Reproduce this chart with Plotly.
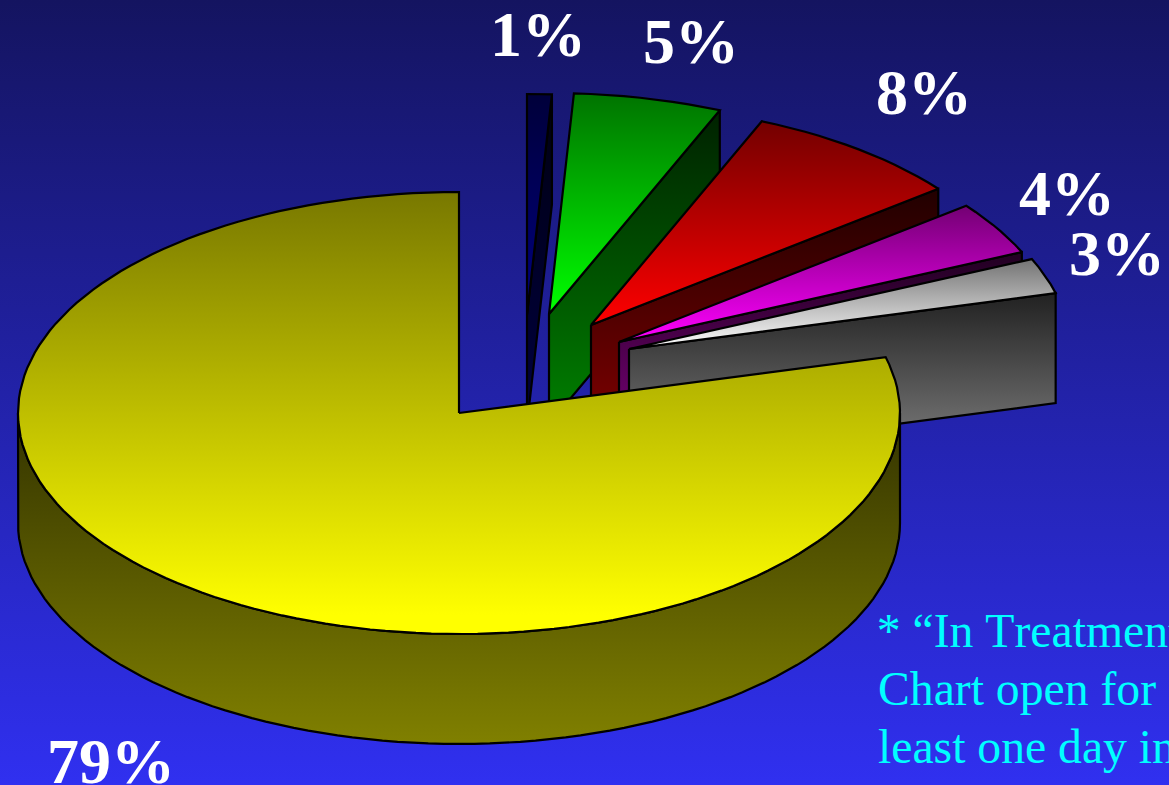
import numpy as np
import plotly.graph_objects as go

# --- data ---
slice_labels = ["79%", "1%", "5%", "8%", "4%", "3%"]
slice_values = [79.07, 0.9, 5.43, 8.1, 3.9, 2.6]
note_lines = ["* “In Treatment”", "Chart open for", "least one day in"]

# --- styling / layout constants ---
slice_rgb = [(255, 255, 0), (0, 0, 128), (0, 255, 0), (255, 0, 0), (255, 0, 255), (255, 255, 255)]
explode_dx = [0, 68, 90, 132, 160, 170]
explode_dy = [0, -98, -99, -88, -71, -64]
label_x = [46, 489, 642, 875, 1018, 1068]
label_base = [780, 53, 60, 111, 212, 272]
note_x = 877
note_base = [644, 702, 760]
W, H = 1169, 785
CX, CY, RX, RY, DEPTH = 459, 413, 441, 221, 110
LABEL_SIZE, NOTE_SIZE = 64, 47.7


def shade(rgb, k):
    return "rgb(%d,%d,%d)" % tuple(round(v * k) for v in rgb)


def poly(fig, xs, ys, c0, c1, y0, y1, line=True):
    fig.add_trace(go.Scatter(
        x=list(xs) + [xs[0]], y=list(ys) + [ys[0]], mode="lines", fill="toself",
        fillgradient=dict(type="vertical", start=y0, stop=y1,
                          colorscale=[[0, c0], [1, c1]]),
        line=dict(color="black", width=2.2 if line else 0),
        hoverinfo="skip", showlegend=False))


def rim(a0, a1, ox, oy):
    n = max(2, int(abs(a1 - a0) / 2) + 1)
    t = np.radians(np.linspace(a0, a1, n))
    return CX + ox + RX * np.sin(t), CY + oy - RY * np.cos(t)


fig = go.Figure()
# background
poly(fig, [0, W, W, 0], [0, 0, H, H], "#141460", "#3030f0", 0, H, line=False)

# angles run clockwise from 12 o'clock: small slices first, the big slice last
total = sum(slice_values)
order = [1, 2, 3, 4, 5, 0]
angle = 0.0
spans = {}
for i in order:
    da = slice_values[i] / total * 360
    spans[i] = (angle, angle + da)
    angle += da

for i in order:
    a0, a1 = spans[i]
    ox, oy = explode_dx[i], explode_dy[i]
    rgb = slice_rgb[i]
    ax, ay = CX + ox, CY + oy
    x, y = rim(a0, a1, ox, oy)
    if i == 0:
        sx, sy = rim(90, 270, ox, oy)
        poly(fig, np.r_[sx, sx[::-1]], np.r_[sy, sy[::-1] + DEPTH],
             shade(rgb, 0.2), shade(rgb, 0.5), CY, CY + RY + DEPTH)
        poly(fig, np.r_[ax, x], np.r_[ay, y],
             shade(rgb, 0.47), shade(rgb, 1), CY - RY, CY + RY - 19)
    else:
        poly(fig, [ax, x[-1], x[-1], ax], [ay, y[-1], y[-1] + DEPTH, ay + DEPTH],
             shade(rgb, 0.13), shade(rgb, 0.5), y[-1], ay + DEPTH)
        poly(fig, np.r_[ax, x], np.r_[ay, y],
             shade(rgb, 0.45), shade(rgb, 1), y.min(), ay)

ann = []
for t, xp, b in zip(slice_labels, label_x, label_base):
    ann.append(dict(x=xp, y=b - 0.29 * LABEL_SIZE, text="<b>%s</b>" % t, xref="x", yref="y",
                    xanchor="left", yanchor="middle", showarrow=False, borderpad=0,
                    font=dict(family="Liberation Serif", size=LABEL_SIZE, color="white")))
for t, b in zip(note_lines, note_base):
    ann.append(dict(x=note_x, y=b - 0.29 * NOTE_SIZE, text=t, xref="x", yref="y",
                    xanchor="left", yanchor="middle", showarrow=False, borderpad=0,
                    font=dict(family="Liberation Serif", size=NOTE_SIZE, color="#00ffff")))

fig.update_layout(
    width=W, height=H, margin=dict(l=0, r=0, t=0, b=0),
    paper_bgcolor="#2020a0", plot_bgcolor="#2020a0",
    xaxis=dict(range=[0, W], visible=False, fixedrange=True),
    yaxis=dict(range=[H, 0], visible=False, fixedrange=True),
    annotations=ann, showlegend=False)

fig.write_html("out.html", config=dict(displayModeBar=False),
               post_script="document.body.style.margin='0';document.documentElement.style.overflow='hidden';"
                           "document.head.insertAdjacentHTML('beforeend','<style>text{font-kerning:none}</style>');")
